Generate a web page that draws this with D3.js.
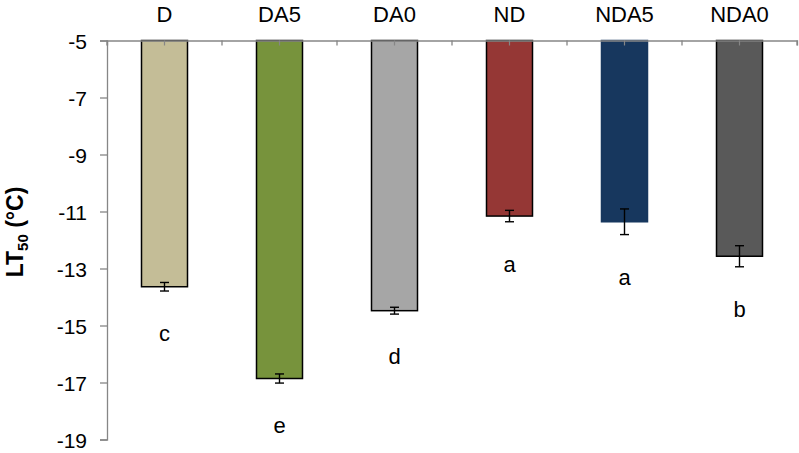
<!DOCTYPE html>
<html>
<head>
<meta charset="utf-8">
<script src="https://cdn.jsdelivr.net/npm/d3@7"></script>
<style>
  html, body { margin: 0; padding: 0; background: #fff; }
  svg { display: block; font-family: "Liberation Sans", Arial, sans-serif; }
</style>
</head>
<body>
<svg id="chart" width="799" height="453"></svg>
<script>
const categories = ["D", "DA5", "DA0", "ND", "NDA5", "NDA0"];
const values = [-13.64, -16.86, -14.48, -11.16, -11.36, -12.57];
const errors = [0.15, 0.16, 0.12, 0.2, 0.45, 0.37];
const letters = ["c", "e", "d", "a", "a", "b"];
const yTicks = [-5, -7, -9, -11, -13, -15, -17, -19];
const colors = ["#C4BD97", "#77933C", "#A6A6A6", "#953735", "#17375E", "#595959"];

const svg = d3.select("#chart");
const mLeft = 107, mRight = 797, mTop = 40.5, mBottom = 439.5;

const x = d3.scaleBand().domain(categories).range([mLeft, mRight])
  .paddingInner(0.6).paddingOuter(0.3);
const xb = d3.scaleBand().domain(categories).range([mLeft, mRight]).padding(0);
const y = d3.scaleLinear().domain([-5, -19]).range([mTop, mBottom]);

const data = categories.map((c, i) => ({ c, v: values[i], e: errors[i], l: letters[i], col: colors[i] }));

// bars (hang from -5)
svg.append("g").selectAll("rect").data(data).join("rect")
  .attr("x", d => x(d.c))
  .attr("y", y(-5))
  .attr("width", x.bandwidth())
  .attr("height", d => y(d.v) - y(-5))
  .attr("fill", d => d.col)
  .attr("stroke", d => d.c === "NDA5" ? d.col : "#000")
  .attr("stroke-width", 1.5);

// error bars
const eb = svg.append("g").attr("stroke", "#000").attr("stroke-width", 1.4);
data.forEach(d => {
  const cx = x(d.c) + x.bandwidth() / 2;
  eb.append("line").attr("x1", cx).attr("x2", cx).attr("y1", y(d.v + d.e)).attr("y2", y(d.v - d.e));
  eb.append("line").attr("x1", cx - 4.5).attr("x2", cx + 4.5).attr("y1", y(d.v + d.e)).attr("y2", y(d.v + d.e));
  eb.append("line").attr("x1", cx - 4.5).attr("x2", cx + 4.5).attr("y1", y(d.v - d.e)).attr("y2", y(d.v - d.e));
});

// significance letters
svg.append("g").selectAll("text").data(data).join("text")
  .attr("x", d => x(d.c) + x.bandwidth() / 2)
  .attr("y", d => y(d.v - d.e) + 50)
  .attr("text-anchor", "middle")
  .attr("font-size", 22)
  .attr("fill", "#000")
  .text(d => d.l);

// y axis
const yAxis = svg.append("g").attr("transform", `translate(${mLeft},0)`)
  .call(d3.axisLeft(y).tickValues(yTicks).tickSize(7).tickPadding(13).tickFormat(d => String(d)));
yAxis.select(".domain").attr("stroke", "#868686").attr("stroke-width", 1.3);
yAxis.selectAll(".tick line").attr("stroke", "#868686").attr("stroke-width", 1.3);
yAxis.selectAll(".tick text").attr("font-size", 21).attr("fill", "#000")
  .attr("font-family", "Liberation Sans, Arial, sans-serif").attr("dy", "0.36em");

// top x axis (categories)
const xAxis = svg.append("g").attr("transform", `translate(0,${mTop})`)
  .call(d3.axisTop(x).tickSize(-5).tickPadding(19));
xAxis.select(".domain").attr("stroke", "#868686").attr("stroke-width", 1.3);
xAxis.selectAll(".tick line").attr("stroke", "#868686").attr("stroke-width", 1.2);
xAxis.selectAll(".tick text").attr("font-size", 22).attr("fill", "#000")
  .attr("font-family", "Liberation Sans, Arial, sans-serif");

// boundary ticks between categories
const bounds = categories.map(c => xb(c)).concat([mRight]);
svg.append("g").selectAll("line").data(bounds).join("line")
  .attr("x1", d => d).attr("x2", d => d)
  .attr("y1", mTop).attr("y2", mTop + 5)
  .attr("stroke", "#868686").attr("stroke-width", 1.3);

// y label
const yl = svg.append("text")
  .attr("transform", "translate(23,232) rotate(-90)")
  .attr("text-anchor", "middle")
  .attr("font-size", 23)
  .attr("font-weight", "bold")
  .attr("fill", "#000");
yl.append("tspan").text("LT");
yl.append("tspan").attr("font-size", 15).attr("dy", 5).text("50");
yl.append("tspan").attr("dy", -5).text(" (°C)");
</script>
</body>
</html>
